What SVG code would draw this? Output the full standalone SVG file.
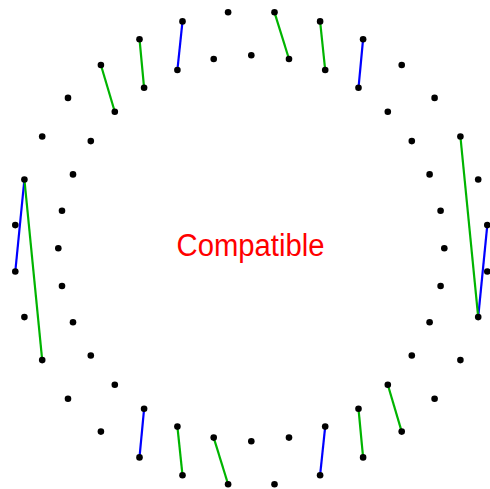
<svg xmlns="http://www.w3.org/2000/svg" width="490" height="489" viewBox="0 0 490 489">
<style>
.n{fill:#000}
.b{stroke:#0000ff;stroke-width:2.2;fill:none}
.g{stroke:#00b400;stroke-width:2.2;fill:none}
.t{font-family:"Liberation Sans",Arial,sans-serif;font-size:31px;fill:#ff0000}
</style>
<rect width="490" height="489" fill="#fff"/>
<g id="connectors">
<line class="b" x1="182.5" y1="21.4" x2="177.4" y2="70.0"/>
<line class="b" x1="363.1" y1="39.2" x2="358.5" y2="87.8"/>
<line class="b" x1="24.4" y1="179.5" x2="15.3" y2="271.5"/>
<line class="b" x1="487.3" y1="225.1" x2="478.2" y2="317.1"/>
<line class="b" x1="144.1" y1="408.8" x2="139.5" y2="457.4"/>
<line class="b" x1="325.2" y1="426.6" x2="320.1" y2="475.2"/>
<line class="g" x1="139.5" y1="39.2" x2="144.1" y2="87.8"/>
<line class="g" x1="100.9" y1="65.0" x2="114.8" y2="111.8"/>
<line class="g" x1="274.5" y1="12.3" x2="289.0" y2="59.0"/>
<line class="g" x1="320.1" y1="21.4" x2="325.2" y2="70.0"/>
<line class="g" x1="460.4" y1="136.5" x2="478.2" y2="317.1"/>
<line class="g" x1="24.4" y1="179.5" x2="42.2" y2="360.1"/>
<line class="g" x1="177.4" y1="426.6" x2="182.5" y2="475.2"/>
<line class="g" x1="213.7" y1="437.6" x2="228.1" y2="484.3"/>
<line class="g" x1="358.5" y1="408.8" x2="363.1" y2="457.4"/>
<line class="g" x1="387.8" y1="384.8" x2="401.7" y2="431.6"/>
</g>
<g id="o1"><circle class="n" cx="274.5" cy="12.3" r="3.3"/></g>
<g id="o2"><circle class="n" cx="320.1" cy="21.4" r="3.3"/></g>
<g id="o3"><circle class="n" cx="363.1" cy="39.2" r="3.3"/></g>
<g id="o4"><circle class="n" cx="401.7" cy="65.0" r="3.3"/></g>
<g id="o5"><circle class="n" cx="434.6" cy="97.9" r="3.3"/></g>
<g id="o6"><circle class="n" cx="460.4" cy="136.5" r="3.3"/></g>
<g id="o7"><circle class="n" cx="478.2" cy="179.5" r="3.3"/></g>
<g id="o8"><circle class="n" cx="487.3" cy="225.1" r="3.3"/></g>
<g id="o9"><circle class="n" cx="487.3" cy="271.5" r="3.3"/></g>
<g id="o10"><circle class="n" cx="478.2" cy="317.1" r="3.3"/></g>
<g id="o11"><circle class="n" cx="460.4" cy="360.1" r="3.3"/></g>
<g id="o12"><circle class="n" cx="434.6" cy="398.7" r="3.3"/></g>
<g id="o13"><circle class="n" cx="401.7" cy="431.6" r="3.3"/></g>
<g id="o14"><circle class="n" cx="363.1" cy="457.4" r="3.3"/></g>
<g id="o15"><circle class="n" cx="320.1" cy="475.2" r="3.3"/></g>
<g id="o16"><circle class="n" cx="274.5" cy="484.3" r="3.3"/></g>
<g id="o17"><circle class="n" cx="228.1" cy="484.3" r="3.3"/></g>
<g id="o18"><circle class="n" cx="182.5" cy="475.2" r="3.3"/></g>
<g id="o19"><circle class="n" cx="139.5" cy="457.4" r="3.3"/></g>
<g id="o20"><circle class="n" cx="100.9" cy="431.6" r="3.3"/></g>
<g id="o21"><circle class="n" cx="68.0" cy="398.7" r="3.3"/></g>
<g id="o22"><circle class="n" cx="42.2" cy="360.1" r="3.3"/></g>
<g id="o23"><circle class="n" cx="24.4" cy="317.1" r="3.3"/></g>
<g id="o24"><circle class="n" cx="15.3" cy="271.5" r="3.3"/></g>
<g id="o25"><circle class="n" cx="15.3" cy="225.1" r="3.3"/></g>
<g id="o26"><circle class="n" cx="24.4" cy="179.5" r="3.3"/></g>
<g id="o27"><circle class="n" cx="42.2" cy="136.5" r="3.3"/></g>
<g id="o28"><circle class="n" cx="68.0" cy="97.9" r="3.3"/></g>
<g id="o29"><circle class="n" cx="100.9" cy="65.0" r="3.3"/></g>
<g id="o30"><circle class="n" cx="139.5" cy="39.2" r="3.3"/></g>
<g id="o31"><circle class="n" cx="182.5" cy="21.4" r="3.3"/></g>
<g id="o32"><circle class="n" cx="228.1" cy="12.3" r="3.3"/></g>
<g id="i1"><circle class="n" cx="251.3" cy="55.3" r="3.3"/></g>
<g id="i2"><circle class="n" cx="289.0" cy="59.0" r="3.3"/></g>
<g id="i3"><circle class="n" cx="325.2" cy="70.0" r="3.3"/></g>
<g id="i4"><circle class="n" cx="358.5" cy="87.8" r="3.3"/></g>
<g id="i5"><circle class="n" cx="387.8" cy="111.8" r="3.3"/></g>
<g id="i6"><circle class="n" cx="411.8" cy="141.1" r="3.3"/></g>
<g id="i7"><circle class="n" cx="429.6" cy="174.4" r="3.3"/></g>
<g id="i8"><circle class="n" cx="440.6" cy="210.7" r="3.3"/></g>
<g id="i9"><circle class="n" cx="444.3" cy="248.3" r="3.3"/></g>
<g id="i10"><circle class="n" cx="440.6" cy="286.0" r="3.3"/></g>
<g id="i11"><circle class="n" cx="429.6" cy="322.2" r="3.3"/></g>
<g id="i12"><circle class="n" cx="411.8" cy="355.5" r="3.3"/></g>
<g id="i13"><circle class="n" cx="387.8" cy="384.8" r="3.3"/></g>
<g id="i14"><circle class="n" cx="358.5" cy="408.8" r="3.3"/></g>
<g id="i15"><circle class="n" cx="325.2" cy="426.6" r="3.3"/></g>
<g id="i16"><circle class="n" cx="289.0" cy="437.6" r="3.3"/></g>
<g id="i17"><circle class="n" cx="251.3" cy="441.3" r="3.3"/></g>
<g id="i18"><circle class="n" cx="213.7" cy="437.6" r="3.3"/></g>
<g id="i19"><circle class="n" cx="177.4" cy="426.6" r="3.3"/></g>
<g id="i20"><circle class="n" cx="144.1" cy="408.8" r="3.3"/></g>
<g id="i21"><circle class="n" cx="114.8" cy="384.8" r="3.3"/></g>
<g id="i22"><circle class="n" cx="90.8" cy="355.5" r="3.3"/></g>
<g id="i23"><circle class="n" cx="73.0" cy="322.2" r="3.3"/></g>
<g id="i24"><circle class="n" cx="62.0" cy="286.0" r="3.3"/></g>
<g id="i25"><circle class="n" cx="58.3" cy="248.3" r="3.3"/></g>
<g id="i26"><circle class="n" cx="62.0" cy="210.7" r="3.3"/></g>
<g id="i27"><circle class="n" cx="73.0" cy="174.4" r="3.3"/></g>
<g id="i28"><circle class="n" cx="90.8" cy="141.1" r="3.3"/></g>
<g id="i29"><circle class="n" cx="114.8" cy="111.8" r="3.3"/></g>
<g id="i30"><circle class="n" cx="144.1" cy="87.8" r="3.3"/></g>
<g id="i31"><circle class="n" cx="177.4" cy="70.0" r="3.3"/></g>
<g id="i32"><circle class="n" cx="213.7" cy="59.0" r="3.3"/></g>
<g id="label"><text class="t" x="250.5" y="256" text-anchor="middle" textLength="148" lengthAdjust="spacingAndGlyphs">Compatible</text></g>
</svg>
